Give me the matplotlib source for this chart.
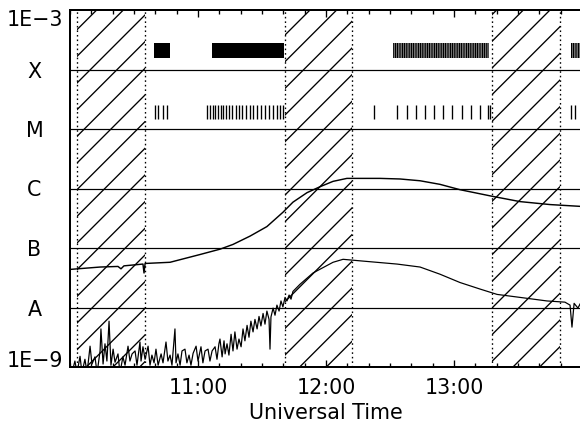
import matplotlib
matplotlib.use("Agg")
import matplotlib.pyplot as plt
from matplotlib.ticker import MultipleLocator, NullLocator

plt.rcParams['font.family'] = ['DejaVu Sans']
plt.rcParams['hatch.linewidth'] = 0.6

# times: minutes after 10:00 UT, fluxes: log10 of flux
long_t = [0, 14.1, 22.5, 23.9, 25.3, 34.2, 34.7, 35.2, 46.9, 60.9, 70.3, 76.4,
          84.4, 92.3, 99.8, 104.5, 111.1, 117.2, 123.3, 129.8, 145.3, 154.7,
          164.1, 173.4, 182.8, 197.8, 210.9, 225.0, 239.1]
long_f = [-7.36, -7.32, -7.31, -7.35, -7.30, -7.27, -7.42, -7.26, -7.24, -7.11,
          -7.02, -6.94, -6.80, -6.64, -6.40, -6.23, -6.07, -5.97, -5.88, -5.83,
          -5.83, -5.84, -5.87, -5.93, -6.02, -6.13, -6.22, -6.27, -6.30]

short_t = [0.9, 2.3, 3.3, 4.7, 5.6, 7.0, 8.0, 9.4, 10.3, 11.7, 12.7, 14.1, 14.5,
           15.5, 16.4, 17.3, 18.3, 19.2, 20.2, 21.1, 22.5, 23.4, 24.8, 25.8,
           27.2, 28.1, 29.1, 30.5, 31.4, 32.8, 33.3, 34.2, 35.2, 36.6, 37.5,
           38.4, 39.4, 40.3, 41.3, 42.7, 43.6, 45.0, 45.9, 46.9, 47.8, 49.2,
           49.7, 50.6, 51.6, 52.5, 53.9, 54.8, 55.8, 56.7, 57.7, 59.1, 60.0,
           61.4, 62.3, 63.3, 64.7, 65.6, 66.6, 68.0, 68.9, 69.8, 70.3, 71.3,
           72.2, 72.7, 73.6, 74.5, 75.5, 76.4, 77.3, 78.3, 79.2, 80.2, 81.1,
           82.0, 83.0, 83.9, 84.8, 85.8, 86.7, 87.7, 88.6, 89.5, 90.5, 91.4,
           92.3, 93.3, 93.75, 94.2, 95.2, 96.1, 97.0, 98.0, 98.9, 99.8, 100.8,
           101.7, 102.7, 103.6, 104.5, 107.8, 113.9, 123.3, 128.0, 137.3,
           153.3, 164.1, 173.4, 182.8, 192.2, 200.2, 210.9, 223.6, 232.0,
           234.4, 235.3, 236.3, 238.1, 239.1]
short_f = [-9.1, -8.90, -9.1, -8.82, -9.1, -8.87, -9.1, -8.65, -8.95, -8.83,
           -9.1, -8.73, -8.36, -8.95, -8.61, -8.90, -8.23, -8.97, -8.70, -8.92,
           -8.78, -9.1, -8.83, -8.97, -8.65, -8.90, -8.78, -8.73, -8.97, -8.58,
           -8.90, -8.66, -8.87, -8.65, -8.97, -8.80, -8.93, -8.70, -8.97, -8.78,
           -8.93, -8.58, -8.90, -8.80, -8.97, -8.36, -8.93, -8.78, -8.97, -8.73,
           -8.70, -8.93, -8.80, -8.97, -8.77, -8.65, -8.90, -8.66, -8.93, -8.73,
           -8.70, -8.90, -8.73, -8.66, -8.87, -8.61, -8.53, -8.83, -8.56, -8.78,
           -8.61, -8.80, -8.45, -8.73, -8.41, -8.70, -8.53, -8.66, -8.36, -8.56,
           -8.30, -8.50, -8.23, -8.41, -8.20, -8.36, -8.15, -8.31, -8.10, -8.28,
           -8.06, -8.20, -8.70, -8.16, -8.01, -8.13, -7.96, -8.06, -7.89, -7.99,
           -7.83, -7.89, -7.79, -7.86, -7.73, -7.61, -7.42, -7.24, -7.19, -7.22,
           -7.27, -7.32, -7.44, -7.58, -7.69, -7.78, -7.83, -7.89, -7.91, -7.96,
           -8.33, -7.93, -8.01, -7.94]

# satellite night intervals (minutes after 10:00)
night = [(3.1, 35.2), (100.8, 132.0), (197.7, 229.7)]

# data-mode markers in the top rows
solid_bars = [(39.4, 46.9), (66.6, 100.3)]
dense_bars = [(151.4, 196.4), (234.8, 241.0)]
m_ticks = [39.8, 41.4, 43.5, 45.4,
           64.1, 65.6, 66.9, 68.0, 69.2, 70.6, 71.9, 73.1, 74.6, 76.1, 77.7,
           79.2, 80.8, 82.5, 84.4, 85.9, 87.8, 89.5, 91.4, 93.4, 95.3, 96.9,
           98.4, 100.0,
           142.5, 153.4, 157.8, 162.2, 166.4, 170.6, 175.0, 179.2, 183.6,
           188.0, 192.2, 196.1, 196.9,
           234.7, 236.7]

decades = [1e-9, 1e-8, 1e-7, 1e-6, 1e-5, 1e-4, 1e-3]
decade_labels = ['1E\u22129', 'A', 'B', 'C', 'M', 'X', '1E\u22123']
hours = [11, 12, 13]


def to_hours(mins):
    return [10 + m / 60 for m in mins]


fig = plt.figure(figsize=(3.625, 2.7), dpi=160)
ax = fig.add_axes([70 / 580, 1 - 367 / 432, 512 / 580, 357 / 432])

for t0, t1 in night:
    h0, h1 = to_hours([t0, t1])
    ax.axvspan(h0, h1, facecolor='none', edgecolor='black', hatch='//', lw=0, zorder=1)
    for h in (h0, h1):
        ax.axvline(h, color='black', lw=0.6, ls=(0, (1.2, 2.2)), zorder=2)

for t0, t1 in solid_bars:
    h0, h1 = to_hours([t0, t1])
    ax.axvspan(h0, h1, ymin=0.866, ymax=0.908, color='black', lw=0, zorder=3)
for t0, t1 in dense_bars:
    h0, h1 = to_hours([t0, t1])
    ax.axvspan(h0, h1, ymin=0.866, ymax=0.908, facecolor='white',
               edgecolor='black', hatch='|' * 15, lw=0, zorder=3)
ax.vlines(to_hours(m_ticks), 0.695, 0.734, transform=ax.get_xaxis_transform(),
          color='black', lw=0.6, zorder=3)

ax.plot(to_hours(long_t), [10 ** f for f in long_f], color='black', lw=0.65, zorder=4)
ax.plot(to_hours(short_t), [10 ** f for f in short_f], color='black', lw=0.55, zorder=4)

ax.set_yscale('log')
ax.set_ylim(1e-9, 1e-3)
ax.set_xlim(10, 14)
for d in decades[1:-1]:
    ax.axhline(d, color='black', lw=0.55, zorder=2)

ax.set_yticks(decades)
ax.set_yticklabels(decade_labels)
ax.yaxis.set_minor_locator(NullLocator())
ax.tick_params(axis='y', length=0, pad=16, labelsize=9.3)
ylabels = ax.get_yticklabels()
for lbl in ylabels:
    lbl.set_horizontalalignment('center')
ylabels[0].set_verticalalignment('baseline')
ylabels[-1].set_verticalalignment('top')

ax.set_xticks(hours)
ax.set_xticklabels([f'{h}:00' for h in hours])
ax.xaxis.set_minor_locator(MultipleLocator(1 / 6))
ax.tick_params(axis='x', which='both', direction='in', top=True, width=0.6,
               labelsize=9.3, pad=5)
ax.tick_params(axis='x', which='major', length=3.2)
ax.tick_params(axis='x', which='minor', length=1.6)
ax.set_xlabel('Universal Time', fontsize=9.3, labelpad=2)

for side in ('left', 'top', 'bottom'):
    ax.spines[side].set_linewidth(0.9)
ax.spines['right'].set_visible(False)

fig.savefig('out.png', dpi=160)
